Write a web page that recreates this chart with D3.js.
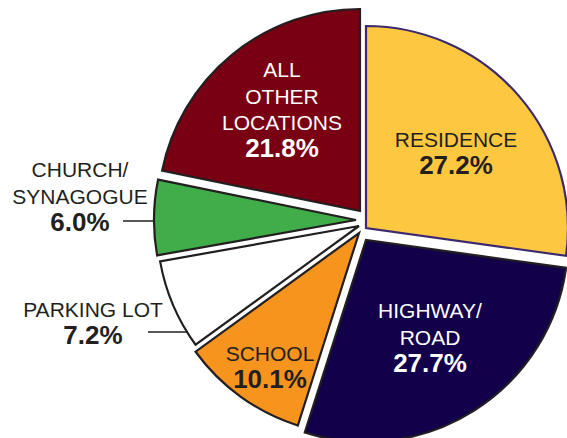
<!DOCTYPE html>
<html>
<head>
<meta charset="utf-8">
<script src="https://cdn.jsdelivr.net/npm/d3@7"></script>
<style>
  html, body { margin: 0; padding: 0; background: #fff; }
  svg { display: block; }
  text { font-family: "Liberation Sans", Arial, Helvetica, sans-serif; }
</style>
</head>
<body>
<svg id="chart" width="567" height="438"></svg>
<script>
// data, clockwise from 12 o'clock
const categories = ['RESIDENCE', 'HIGHWAY/ROAD', 'SCHOOL', 'PARKING LOT', 'CHURCH/SYNAGOGUE', 'ALL OTHER LOCATIONS'];
const shares = [27.2, 27.7, 10.1, 7.2, 6.0, 21.8];
const nameLines = [['RESIDENCE'], ['HIGHWAY/', 'ROAD'], ['SCHOOL'], ['PARKING LOT'], ['CHURCH/', 'SYNAGOGUE'], ['ALL', 'OTHER', 'LOCATIONS']];
const valueLabels = ['27.2%', '27.7%', '10.1%', '7.2%', '6.0%', '21.8%'];

// look of each slice
const fills = ['#fdc83f', '#12004a', '#f7941e', '#ffffff', '#41ad49', '#790012'];
const strokes = ['#3b2a70', '#231f20', '#231f20', '#231f20', '#231f20', '#231f20'];
const textColors = ['#231f20', '#ffffff', '#231f20', '#231f20', '#231f20', '#ffffff'];

// exploded layout: each slice sits a bit away from the common centre
const cx = 359, cy = 222, radius = 202;
const shift = [[7, 6], [7, 18], [0, 11], [0, 4], [-3, -2], [1, -11]];
// label anchors (centre x, first baseline y); outside labels get a leader
const labelPos = [[456, 147], [430, 318], [270, 361], [93, 317], [80, 177], [282, 77]];
const leaders = { 3: { x1: 148, y: 332 }, 4: { x1: 123, y: 221 } };

const svg = d3.select('#chart');

const pie = d3.pie().sort(null).value(d => d);
const arcs = pie(shares);
const arc = d3.arc().innerRadius(0).outerRadius(radius);

const g = svg.append('g');

arcs.forEach((a, i) => {
  g.append('path')
    .attr('transform', 'translate(' + (cx + shift[i][0]) + ',' + (cy + shift[i][1]) + ')')
    .attr('d', arc(a))
    .attr('fill', fills[i])
    .attr('stroke', strokes[i])
    .attr('stroke-width', 2.2)
    .attr('stroke-linejoin', 'miter');
});

// leader lines for the small slices: horizontal to the arc edge
Object.keys(leaders).forEach(k => {
  const i = +k;
  const l = leaders[i];
  const ox = cx + shift[i][0], oy = cy + shift[i][1];
  const dy = l.y - oy;
  const x2 = ox - Math.sqrt(radius * radius - dy * dy);
  g.append('line')
    .attr('x1', l.x1).attr('x2', x2 + 1)
    .attr('y1', l.y).attr('y2', l.y)
    .attr('stroke', '#231f20')
    .attr('stroke-width', 1.6);
});

// labels
arcs.forEach((a, i) => {
  const [lx, ly] = labelPos[i];
  const t = g.append('text')
    .attr('text-anchor', 'middle')
    .attr('fill', textColors[i]);
  nameLines[i].forEach((s, j) => {
    t.append('tspan')
      .attr('x', lx)
      .attr('y', ly + j * 26.5)
      .attr('font-size', 21)
      .text(s);
  });
  t.append('tspan')
    .attr('x', lx)
    .attr('y', ly + nameLines[i].length * 26.5 + 0.5)
    .attr('font-size', 26)
    .attr('font-weight', 'bold')
    .text(valueLabels[i]);
});
</script>
</body>
</html>
